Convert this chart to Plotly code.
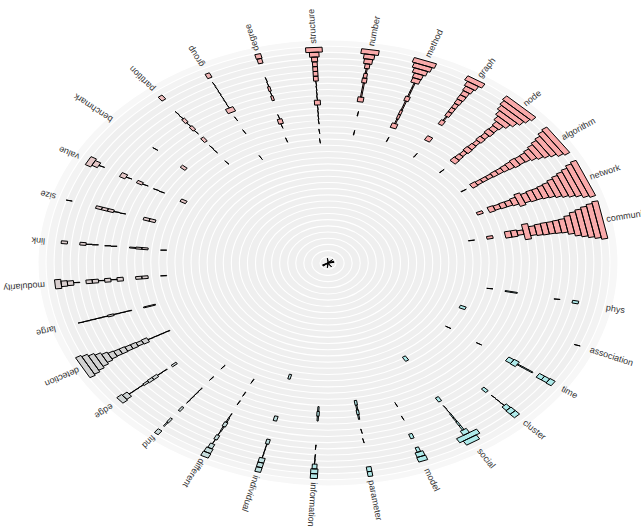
import math
import plotly.graph_objects as go

# Terms arranged clockwise from the top; one empty sector sits after "communities".
words = ["structure", "number", "method", "graph", "node", "algorithm", "network",
         "communities", "phys", "association", "time", "cluster", "social", "model",
         "parameter", "information", "individual", "different", "find", "edge",
         "detection", "large", "modularity", "link", "size", "value", "benchmark",
         "partition", "group", "degree"]

colors = ["#f9aaaa", "#f9aaaa", "#f9aaaa", "#f9aaaa", "#f9aaaa", "#f9aaaa", "#f9aaaa",
          "#f9aaaa", "#aeeaea", "#aeeaea", "#aeeaea", "#aeeaea", "#aeeaea", "#aeeaea",
          "#b0e8e8", "#b4e6e6", "#c0e0e0", "#c6dcdc", "#cad8d8", "#ced4d4",
          "#d2d2d2", "#d4d0d0", "#d8cece", "#dccccc", "#e0caca", "#e4c6c6", "#e8c2c2",
          "#ecbcbc", "#f0b6b6", "#f4b0b0"]

# Term frequency per period, innermost period first (45 periods).
structure = [0.5, 0, 0, 0, 0, 0, 0, 0, 0, 0, 0, 0, 0, 0, 0, 0, 0, 0, 0, 0, 0, 0, 0, 0, 0,
             0.5, 0, 0.5, 0, 0.5, 0.5, 0.5, 0.5, 5, 0.5, 0.5, 0.5, 0.5, 4, 4, 4, 4, 5, 8, 14]
number = [0, 0, 0, 0, 0, 0, 0, 0, 0, 0, 0, 0, 0, 0, 0, 0, 0, 0, 0, 0, 0, 0, 0, 0, 0,
          0, 0, 0.5, 0, 0, 0, 0.5, 0, 0, 5, 1, 1, 1, 4, 3, 1, 4, 7, 9, 15]
method = [0, 0, 0, 0, 0, 0, 0, 0, 0, 0, 0, 0, 0, 0, 0, 0, 0, 0, 0, 0, 0, 0, 0, 0, 0,
          0, 0, 0.5, 0, 0, 5, 1, 2, 2, 1, 1, 4, 1, 1, 1, 7, 8, 12, 16, 20]
graph = [0, 0, 0, 0, 0, 0, 0, 0, 0, 0, 0, 0, 0, 0, 0, 0, 0, 0, 0, 0, 0, 0, 0, 0, 0,
         0, 0.5, 0, 0, 0, 5, 0, 0, 0, 4, 1, 4, 4, 4, 5, 6, 6, 8, 11, 17]
node = [0.5, 0, 0, 0, 0, 0, 0, 0, 0, 0, 0, 0, 0, 0, 0, 0, 0, 0, 0, 0, 0, 0, 0, 0, 0,
        0, 0.5, 0, 0, 6, 5, 4, 6, 5, 4, 6, 5, 7, 6, 8, 14, 20, 26, 30, 34]
algorithm = [0, 0, 0, 0, 0, 0, 0, 0, 0, 0, 0, 0, 0, 0, 0, 0, 0, 0, 0, 0, 0, 0, 0, 0, 0,
             0, 0.5, 0, 5, 4, 4, 4, 5, 5, 6, 7, 9, 8, 9, 12, 16, 20, 24, 30, 34]
network = [0.5, 0, 0, 0, 0, 0, 0, 0, 0, 0, 0, 0, 0, 0, 0, 0, 0, 0, 0, 0, 0, 0, 0, 0, 0,
           0, 3, 0, 6, 5, 6, 6, 8, 14, 10, 12, 12, 14, 16, 20, 24, 28, 32, 38, 42]
communities = [0.5, 0, 0, 0, 0, 0, 0, 0, 0, 0, 0, 0, 0, 0, 0, 0, 0, 0, 0, 0, 0, 0, 0, 0.5, 0,
               0, 3, 0, 0, 7, 7, 5, 17, 10, 12, 13, 13, 14, 15, 20, 26, 30, 34, 38, 42]
phys = [0, 0, 0, 0, 0, 0, 0, 0, 0, 0, 0, 0, 0, 0, 0, 0, 0, 0, 0, 0, 0, 0, 0, 0, 0,
        0, 0.5, 0, 0, 1, 1, 0, 0, 0, 0, 0, 0, 0.5, 0, 0, 3, 0, 0, 0, 0]
association = [0, 0, 0, 0, 0, 0, 0, 0, 0, 0, 0, 0, 0, 0, 0, 0, 0, 0, 0, 0, 0, 0, 0, 3, 0,
               0, 0, 0, 0, 0, 0, 0, 0, 0, 0, 0, 0, 0, 0, 0, 0, 0, 0, 0.5, 0]
time = [0, 0, 0, 0, 0, 0, 0, 0, 0, 0, 0, 0, 0, 0, 0, 0, 0, 0, 0, 0, 0, 0, 0, 0.5, 0,
        0, 0, 0, 0, 0.5, 0, 0, 0, 0, 0, 5, 6, 1, 1, 1, 0, 5, 5, 6, 0]
cluster = [0, 0, 0, 0, 0, 0, 0, 0, 0, 0, 0, 0, 0, 0, 0, 0, 0, 0, 0, 0, 0, 0, 0, 0, 0,
           0, 0, 0, 0, 0, 0, 0, 0, 0, 0, 0, 3, 0, 0.5, 0.5, 0.5, 5, 6, 6, 0]
social = [0.5, 0, 0, 0, 0, 0, 0, 0, 0, 0, 0, 0, 0, 0, 0, 0, 0, 0, 0, 0, 0, 0, 0, 3, 0,
          0, 0, 0, 0, 0, 0, 0, 0, 3, 0, 0.5, 0.5, 1, 1, 1.5, 1.5, 6, 20, 13, 0]
model = [0, 0, 0, 0, 0, 0, 0, 0, 0, 0, 0, 0, 0, 0, 0, 0, 0, 0, 0, 0, 0, 0, 0, 0, 0,
         0, 0, 0, 0, 0, 0, 0.5, 0, 0, 0.5, 0, 0, 0, 3, 0, 0, 3, 7, 8, 0]
parameter = [0, 0, 0, 0, 0, 0, 0, 0, 0, 0, 0, 0, 0, 0, 0, 0, 0, 0, 0, 0, 0, 0, 0, 0, 0,
             0, 0, 0, 0, 2, 1, 2, 1, 0, 0, 0.5, 0, 0.5, 0, 0, 0, 0, 0, 4, 4]
information = [0.5, 0, 0, 0, 0, 0, 0, 0, 0, 0, 0, 0, 0, 0, 0, 0, 0, 0, 0, 0, 0, 0, 0, 0, 0,
               0, 0, 0, 0, 0, 1, 2, 1, 0, 0, 0, 0, 0, 0.5, 0, 0.5, 0.5, 4, 6, 6]
individual = [0, 0, 0, 0, 0, 0, 0, 0, 0, 0, 0, 0, 0, 0, 0, 0, 0, 0, 0, 0, 0, 0, 0, 0, 2,
              0, 0, 0, 0, 0, 0, 0, 0, 3, 0, 0, 0, 0, 3, 0.5, 0.5, 0.5, 5, 5, 5]
different = [0, 0, 0, 0, 0, 0, 0, 0, 0, 0, 0, 0, 0, 0, 0, 0, 0, 0, 0, 0, 0, 0, 0, 0, 0,
             0, 0, 0.5, 0, 0, 0.5, 0, 0.5, 0, 0, 0.5, 1, 3, 1, 0.5, 3, 0.5, 4, 6, 7]
find = [0, 0, 0, 0, 0, 0, 0, 0, 0, 0, 0, 0, 0, 0, 0, 0, 0, 0, 0, 0, 0, 0, 0, 0, 0,
        0, 0, 0.5, 0, 0, 0.5, 0, 0, 0.5, 0.5, 0.5, 0.5, 0, 2, 0, 0, 2, 1, 0, 4]
edge = [0.5, 0, 0, 0, 0, 0, 0, 0, 0, 0, 0, 0, 0, 0, 0, 0, 0, 0, 0, 0, 0, 0, 0, 0, 0,
        0, 0, 0, 0, 0, 0, 0, 2, 0, 0.5, 0.5, 3, 3, 2, 0.5, 0.5, 0.5, 6, 8, 0]
detection = [0.5, 0, 0, 0, 0, 0, 0, 0, 0, 0, 0, 0, 0, 0, 0, 0, 0, 0, 0, 0, 0, 0, 0, 0, 0,
             0, 0, 0, 0, 0.5, 0.5, 0.5, 0.5, 5, 4, 5, 5, 6, 6, 7, 10, 14, 18, 22, 25]
large = [0, 0, 0, 0, 0, 0, 0, 0, 0, 0, 0, 0, 0, 0, 0, 0, 0, 0, 0, 0, 0, 0, 0, 0, 0,
         0, 0, 0, 0, 1, 1, 0, 0, 0.5, 0.5, 0.5, 2, 0.5, 0.5, 0.5, 0.5, 0.5, 0, 0, 0]
modularity = [0, 0, 0, 0, 0, 0, 0, 0, 0, 0, 0, 0, 0, 0, 0, 0, 0, 0, 0, 0, 0, 0, 0, 0, 0,
              0, 0.5, 0, 0, 3, 3, 0, 0, 4, 0.5, 4, 0.5, 4, 4, 0, 0.5, 5, 6, 10, 0]
link = [0, 0, 0, 0, 0, 0, 0, 0, 0, 0, 0, 0, 0, 0, 0, 0, 0, 0, 0, 0, 0, 0, 0, 0, 0,
        0, 0.5, 0, 0, 2, 2, 1, 0, 0, 0.5, 0.5, 0, 0.5, 0.5, 3, 0, 0, 3, 0, 0]
size = [0, 0, 0, 0, 0, 0, 0, 0, 0, 0, 0, 0, 0, 0, 0, 0, 0, 0, 0, 0, 0, 0, 0, 0, 0,
        0, 0, 0, 0, 3, 3, 0, 0, 0, 0.5, 0.5, 3, 3, 3, 0, 0, 0, 0, 0.5, 0]
value = [0, 0, 0, 0, 0, 0, 0, 0, 0, 0, 0, 0, 0, 0, 0, 0, 0, 0, 0, 0, 0, 0, 0, 0, 0,
         0, 3, 0, 0, 0, 0.5, 0.5, 0, 0.5, 3, 0, 0.5, 5, 0, 0, 0, 0.5, 6, 10, 0]
benchmark = [0, 0, 0, 0, 0, 0, 0, 0, 0, 0, 0, 0, 0, 0, 0, 0, 0, 0, 0, 0, 0, 0, 0, 0, 0,
             0, 0, 0, 0, 0, 3, 0, 0, 0, 0, 0, 0.5, 0, 0, 0, 0, 0, 0, 0, 0]
partition = [0, 0, 0, 0, 0, 0, 0, 0, 0, 0, 0, 0, 0, 0, 0, 0, 0, 0, 0, 0, 0, 0, 0, 0, 0,
             0, 0.5, 0, 0, 0.5, 0.5, 0, 3, 0, 0.5, 3, 0.5, 3, 0.5, 0.5, 0, 0, 0, 4, 0]
group = [0, 0, 0, 0, 0, 0, 0, 0, 0, 0, 0, 0, 0, 0, 0, 0, 0, 0, 0, 0, 0, 0, 0, 0, 0.5,
         0, 0, 0, 0, 0, 0.5, 0, 0, 0.5, 0, 7, 0.5, 0.5, 0.5, 0.5, 0.5, 0.5, 0, 4, 0]
degree = [0, 0, 0, 0, 0, 0, 0, 0, 0, 0, 0, 0, 0, 0, 0, 0, 0, 0, 0, 0, 0, 0, 0, 0, 0,
          0, 0.5, 0, 0, 0.5, 4, 0.5, 0, 0, 0, 2, 0.5, 2, 0.5, 0.5, 0, 0, 0, 4, 5]

series = [structure, number, method, graph, node, algorithm, network, communities,
          phys, association, time, cluster, social, model, parameter, information,
          individual, different, find, edge, detection, large, modularity, link, size,
          value, benchmark, partition, group, degree]

# Geometry of the radial layout (unit circle, stretched by the axes)
W, H = 641, 532
CX, CY = 328, 263          # pixel position of the centre
SX, SY = 290, 223          # pixels per unit radius, horizontal / vertical
N_SECTORS = 31
GAP_AFTER = "communities"
N_PERIODS = 45
DR = 0.0215                # radial thickness of one period
WIDTH_SCALE = 1 / 245.0    # tangential width per unit of frequency
N_RINGS = 36

x_range = [-CX / SX, (W - CX) / SX]
y_range = [-(H - CY) / SY, CY / SY]


def sector_angle(i):
    k = i if i <= words.index(GAP_AFTER) else i + 1
    return math.radians((8 - k) * 360.0 / N_SECTORS)


fig = go.Figure()

# concentric background rings
shapes = []
for j in range(N_RINGS, 0, -1):
    R = j / N_RINGS
    if j == N_RINGS:
        fc = "#f7f7f7"
    elif j == N_RINGS - 1:
        fc = "#f3f3f3"
    else:
        fc = "#efefef"
    shapes.append(dict(type="circle", xref="x", yref="y", x0=-R, y0=-R, x1=R, y1=R,
                       fillcolor=fc, line=dict(color="white", width=1.1), layer="below"))

for i, (word, vals) in enumerate(zip(words, series)):
    th = sector_angle(i)
    ux, uy = math.cos(th), math.sin(th)
    vx, vy = -uy, ux
    xs, ys = [], []
    for p, v in enumerate(vals):
        if v <= 0:
            continue
        r0, r1 = p * DR, (p + 1) * DR
        hw = v * WIDTH_SCALE / 2
        pts = [(r0, -hw), (r1, -hw), (r1, hw), (r0, hw), (r0, -hw)]
        for r, t in pts:
            xs.append(r * ux + t * vx)
            ys.append(r * uy + t * vy)
        xs.append(None)
        ys.append(None)
    fig.add_trace(go.Scatter(x=xs, y=ys, mode="lines", fill="toself",
                             fillcolor=colors[i], line=dict(color="black", width=1),
                             hoverinfo="skip", showlegend=False))

# label widths (Arial-like metrics, em units)
CHAR_W = {"a": .556, "b": .556, "c": .5, "d": .556, "e": .556, "f": .278, "g": .556,
          "h": .556, "i": .222, "j": .222, "k": .5, "l": .222, "m": .833, "n": .556,
          "o": .556, "p": .556, "q": .556, "r": .333, "s": .5, "t": .278, "u": .556,
          "v": .5, "w": .722, "x": .5, "y": .5, "z": .5}
FONT_SIZE = 9
LABEL_R = 0.975

annotations = []
for i, word in enumerate(words):
    th = sector_angle(i)
    px, py = SX * math.cos(th), SY * math.sin(th)
    n = math.hypot(px, py)
    dx, dy = px / n, py / n
    L = sum(CHAR_W.get(c, .55) for c in word) * FONT_SIZE
    off = L / 2 + 2
    x = LABEL_R * math.cos(th) + off * dx / SX
    y = LABEL_R * math.sin(th) + off * dy / SY
    ang = -math.degrees(math.atan2(dy, dx))
    annotations.append(dict(x=x, y=y, xref="x", yref="y", text=word, showarrow=False,
                            textangle=ang, xanchor="center", yanchor="middle",
                            font=dict(family="Liberation Sans, Arial", size=FONT_SIZE,
                                      color="#333333")))

fig.update_layout(
    width=W, height=H,
    margin=dict(l=0, r=0, t=0, b=0),
    paper_bgcolor="white", plot_bgcolor="white",
    xaxis=dict(range=x_range, visible=False, fixedrange=True),
    yaxis=dict(range=y_range, visible=False, fixedrange=True),
    shapes=shapes, annotations=annotations,
)

fig.write_html("out.html")
